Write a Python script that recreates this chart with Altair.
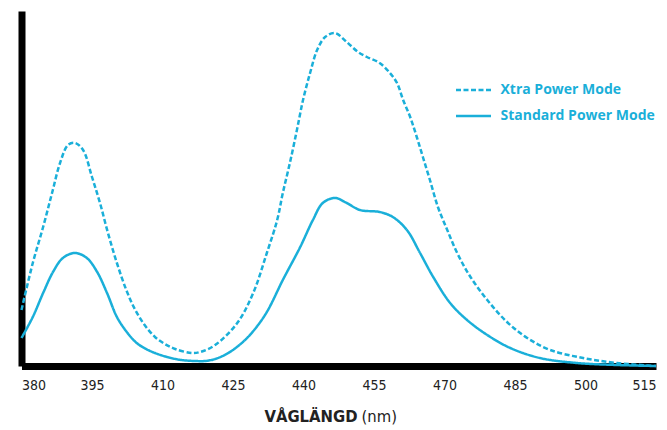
import altair as alt
import pandas as pd

# Standard Power Mode (solid)
std_nm = [380, 382.4, 384.6, 386.7, 388.8, 391.4, 393.9, 396.1, 398.2, 400.3, 402.4, 404.5,
          406.5, 408.4, 411, 414, 417, 419, 421.2, 424, 427.1, 429.5, 432.2, 435.6, 439.3, 442,
          444.1, 446.7, 449.2, 452, 456.2, 459, 462, 464.8, 467.6, 471.2, 474.8, 479.1, 484,
          490.3, 498.2, 506.7, 515]
std_val = [28, 49, 73, 94, 108, 113, 108, 94, 73, 49, 34, 23,
           17, 13, 9, 6, 5, 5, 7, 13, 24, 36, 54, 86, 119, 146,
           163, 168, 163, 156, 154, 149, 136, 113, 89, 63, 46, 31, 18,
           8, 3, 1, 0]

# Xtra Power Mode (dashed)
xtra_nm = [380, 382.4, 384.6, 386.5, 388.2, 389.9, 391.4, 393.1, 395, 396.7, 398.4, 400.3, 402.3,
           404.1, 406.2, 408.4, 410.5, 412.7, 416.3, 418, 421.2, 425.9, 429.3, 432.2, 434.4, 435.6,
           437.1, 438.6, 439.9, 441.4, 442.9, 444.6, 446.7, 449.2, 451.6, 453.5, 456.2, 458.4,
           459.9, 461.2, 462.7, 464.1, 465.4, 466.9, 468.6, 470.5, 472.7, 475.4, 479.1, 483.3,
           487.6, 492.5, 499.5, 506.7, 515]
xtra_val = [56, 103, 139, 173, 203, 221, 223, 216, 189, 163, 133, 103, 76,
            57, 41, 29, 22, 17, 13, 14, 21, 43, 73, 113, 146, 173,
            203, 236, 266, 293, 316, 329, 333, 324, 314, 309, 303, 293,
            283, 266, 249, 229, 209, 186, 159, 137, 113, 90, 66, 44,
            28, 16, 8, 3, 0]

series = ["Xtra Power Mode", "Standard Power Mode"]
x_ticks = [380, 395, 410, 425, 440, 455, 470, 485, 500, 515]

CYAN = "#1aafd9"
COND = "'DejaVu Sans Condensed', 'Roboto Condensed', Roboto, sans-serif"

df = pd.concat([
    pd.DataFrame({"nm": xtra_nm, "val": xtra_val, "series": series[0]}),
    pd.DataFrame({"nm": std_nm, "val": std_val, "series": series[1]}),
])

lines = alt.Chart(df).mark_line(interpolate="catmull-rom", strokeWidth=2.5).encode(
    x=alt.X("nm:Q", scale=alt.Scale(domain=[380, 515], nice=False, zero=False),
            axis=alt.Axis(values=x_ticks, ticks=False, grid=False, title=None,
                          domainColor="black", domainWidth=7, labelPadding=12,
                          labelFont=COND, labelFontSize=14,
                          labelColor="#222222")),
    y=alt.Y("val:Q", scale=alt.Scale(domain=[0, 355], nice=False),
            axis=alt.Axis(labels=False, ticks=False, grid=False, title=None,
                          domainColor="black", domainWidth=7)),
    color=alt.Color("series:N", scale=alt.Scale(domain=series, range=[CYAN, CYAN]),
                    legend=alt.Legend(title=None, orient="none", legendX=433, legendY=60,
                                      symbolType="stroke", symbolSize=1225,
                                      symbolStrokeWidth=2.5, labelOffset=8,
                                      labelFont="Open Sans", labelFontSize=14,
                                      labelFontWeight="bold", labelColor=CYAN,
                                      rowPadding=-2, padding=0)),
    strokeDash=alt.StrokeDash("series:N", scale=alt.Scale(domain=series, range=[[5, 2.5], [1, 0]]),
                              legend=None),
)

title_bold = alt.Chart(pd.DataFrame({"t": ["VÅGLÄNGD"]})).mark_text(
    align="right", baseline="middle", font=COND, fontSize=16.5,
    fontWeight="bold", color="#222222"
).encode(x=alt.value(336), y=alt.value(406), text="t:N")

title_reg = alt.Chart(pd.DataFrame({"t": ["(nm)"]})).mark_text(
    align="left", baseline="middle", font=COND, fontSize=16.5,
    color="#222222"
).encode(x=alt.value(340), y=alt.value(406), text="t:N")

chart = alt.layer(lines, title_bold, title_reg).properties(
    width=634.5, height=355,
    autosize=alt.AutoSizeParams(type="none"),
    padding={"left": 13.5, "top": 3, "right": 3, "bottom": 62},
).configure_view(stroke=None)

chart.save("out.html", embed_options={"renderer": "svg", "actions": False})
